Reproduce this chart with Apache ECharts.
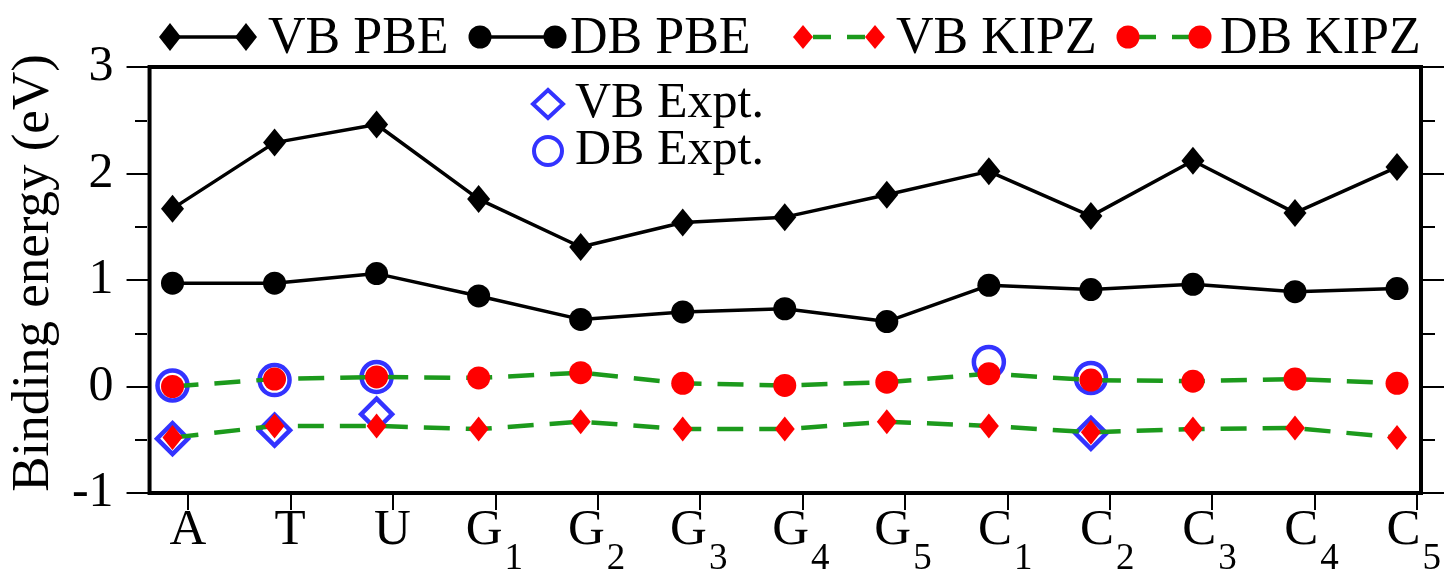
<!DOCTYPE html>
<html>
<head>
<meta charset="utf-8">
<script src="https://cdn.jsdelivr.net/npm/echarts@6/dist/echarts.min.js"></script>
<style>
  html, body { margin: 0; padding: 0; background: #fff; }
  #chart { width: 1444px; height: 579px; }
</style>
</head>
<body>
<div id="chart"></div>
<script>
// Nucleobases / nucleosides along the x axis (letter + optional subscript)
const categories = ['A', 'T', 'U', 'G1', 'G2', 'G3', 'G4', 'G5', 'C1', 'C2', 'C3', 'C4', 'C5'];

// Binding energies (eV)
const vbPBE  = [1.67, 2.29, 2.46, 1.76, 1.31, 1.54, 1.59, 1.80, 2.02, 1.60, 2.12, 1.63, 2.06];
const dbPBE  = [0.97, 0.97, 1.06, 0.85, 0.63, 0.70, 0.73, 0.61, 0.95, 0.91, 0.96, 0.89, 0.92];
const vbKIPZ = [-0.48, -0.37, -0.37, -0.40, -0.33, -0.40, -0.40, -0.33, -0.37, -0.43, -0.40, -0.39, -0.48];
const dbKIPZ = [0.00, 0.07, 0.09, 0.08, 0.13, 0.03, 0.01, 0.04, 0.12, 0.06, 0.05, 0.07, 0.03];
const vbExpt = [-0.49, -0.41, -0.26, null, null, null, null, null, null, -0.44, null, null, null];
const dbExpt = [0.01, 0.06, 0.09, null, null, null, null, null, 0.23, 0.08, null, null, null];

// Value axis range: labelled ticks every 1 eV, half-step ticks every 0.5 eV
const yMin = -1;
const yMax = 3;
const yStep = 1;
const yHalfStep = 0.5;

const FONT = "'Liberation Serif', 'Times New Roman', 'DejaVu Serif', serif";
const BLUE = '#0000ff';
const RED = '#ff0000';
const GREEN = '#1c9a1c';

const pairs = arr => arr.map((v, i) => [i, v]).filter(p => p[1] !== null);

const chart = echarts.init(document.getElementById('chart'), null, { renderer: 'canvas' });

// Top legend drawn as graphic elements: symbol — symbol, then the label
function diamondPts(cx, cy, hw, hh) {
  return [[cx, cy - hh], [cx + hw, cy], [cx, cy + hh], [cx - hw, cy]];
}
const LY = 37;
function legendItem(x1, x2, textX, label, shape, color, lineColor, dashed) {
  const els = [];
  if (dashed) {
    els.push({ type: 'line', shape: { x1: x1 + 10, y1: LY, x2: x1 + 28, y2: LY }, style: { stroke: lineColor, lineWidth: 4.5 } });
    els.push({ type: 'line', shape: { x1: x2 - 28, y1: LY, x2: x2 - 10, y2: LY }, style: { stroke: lineColor, lineWidth: 4.5 } });
  } else {
    els.push({ type: 'line', shape: { x1: x1, y1: LY, x2: x2, y2: LY }, style: { stroke: lineColor, lineWidth: 3.5 } });
  }
  [x1, x2].forEach(cx => {
    if (shape === 'diamond') {
      els.push({ type: 'polygon', shape: { points: diamondPts(cx, LY, dashed ? 10 : 11, dashed ? 12 : 14) }, style: { fill: color } });
    } else {
      els.push({ type: 'circle', shape: { cx: cx, cy: LY, r: 11.5 }, style: { fill: color } });
    }
  });
  els.push({
    type: 'text',
    style: { text: label, x: textX, y: LY + 2, verticalAlign: 'middle', align: 'left', font: '52px ' + FONT, fill: '#000' }
  });
  return els;
}

const graphicEls = [].concat(
  legendItem(170, 246, 268, 'VB PBE', 'diamond', '#000', '#000', false),
  legendItem(480, 555, 570, 'DB PBE', 'circle', '#000', '#000', false),
  legendItem(803, 875, 896, 'VB KIPZ', 'diamond', RED, GREEN, true),
  legendItem(1128, 1200, 1220, 'DB KIPZ', 'circle', RED, GREEN, true)
);

const tickStyle = { color: '#000', width: 2 };
const hiddenX = (gridIndex) => ({
  type: 'value', gridIndex, min: -0.225, max: 12.235,
  axisLine: { show: false, onZero: false }, axisTick: { show: false }, axisLabel: { show: false }, splitLine: { show: false }
});
const tickY = (gridIndex, position, interval, length, extra) => Object.assign({
  type: 'value', gridIndex, min: yMin, max: yMax, interval, position,
  axisLine: { show: false, onZero: false },
  axisTick: { show: true, inside: false, length, lineStyle: tickStyle },
  axisLabel: { show: false },
  splitLine: { show: false }
}, extra || {});

const labelFormatter = v => v.length > 1 ? '{m|' + v[0] + '}{s|' + v.slice(1) + '}' : '{m|' + v + '}';

const option = {
  backgroundColor: '#fff',
  animation: false,
  textStyle: { fontFamily: FONT },
  graphic: graphicEls,
  legend: {
    data: ['VB Expt.', 'DB Expt.'],
    orient: 'vertical',
    left: 526,
    top: 74,
    itemWidth: 30,
    itemHeight: 28,
    itemGap: -3,
    selectedMode: false,
    itemStyle: { borderWidth: 4 },
    textStyle: { fontFamily: FONT, fontSize: 50, color: '#000', padding: [0, 0, 0, 7] }
  },
  grid: [
    // plotting frame
    { left: 147, right: 23, top: 67, bottom: 86, show: true, borderColor: '#000', borderWidth: 4, backgroundColor: 'transparent' },
    // category labels
    { left: 188, right: 27, top: 67, bottom: 86, show: false },
    // half-step ticks on both sides of the frame
    { left: 147, right: 23, top: 67, bottom: 86, show: false },
    // category ticks hanging below the frame (axis line 17px under it, ticks pointing up to the frame)
    { left: 188, right: 27, top: 84, bottom: 69, show: false }
  ],
  xAxis: [
    hiddenX(0),
    {
      type: 'category', gridIndex: 1, data: categories, boundaryGap: false,
      axisLine: { show: false, onZero: false },
      axisTick: { show: false },
      axisLabel: {
        margin: 12,
        formatter: labelFormatter,
        rich: {
          m: { fontFamily: FONT, fontSize: 51, lineHeight: 50, color: '#000', verticalAlign: 'top' },
          s: { fontFamily: FONT, fontSize: 37, lineHeight: 36, color: '#000', verticalAlign: 'top', padding: [36, 0, 0, 2] }
        }
      },
      splitLine: { show: false }
    },
    hiddenX(2),
    {
      type: 'category', gridIndex: 3, data: categories, boundaryGap: false,
      axisLine: { show: false, onZero: false },
      axisTick: { show: true, inside: true, length: 17, lineStyle: tickStyle },
      axisLabel: { show: false },
      splitLine: { show: false }
    }
  ],
  yAxis: [
    tickY(0, 'left', yStep, 23, {
      name: 'Binding energy (eV)', nameLocation: 'middle', nameGap: 84,
      nameTextStyle: { fontFamily: FONT, fontSize: 53, color: '#000', padding: [0, 0, 0, 14] },
      axisLabel: { show: true, margin: 36, fontFamily: FONT, fontSize: 50, color: '#000' }
    }),
    tickY(0, 'right', yStep, 23),
    tickY(2, 'left', yHalfStep, 12),
    tickY(2, 'right', yHalfStep, 14),
    { type: 'value', gridIndex: 1, min: yMin, max: yMax, show: false },
    { type: 'value', gridIndex: 3, min: yMin, max: yMax, show: false }
  ],
  series: [
    {
      name: 'VB PBE', type: 'line', xAxisIndex: 0, yAxisIndex: 0, data: pairs(vbPBE),
      symbol: 'diamond', symbolSize: [23, 28],
      lineStyle: { color: '#000', width: 3.5 }, itemStyle: { color: '#000' }
    },
    {
      name: 'DB PBE', type: 'line', xAxisIndex: 0, yAxisIndex: 0, data: pairs(dbPBE),
      symbol: 'circle', symbolSize: 23,
      lineStyle: { color: '#000', width: 3.5 }, itemStyle: { color: '#000' }
    },
    {
      name: 'VB KIPZ', type: 'line', xAxisIndex: 0, yAxisIndex: 0, data: pairs(vbKIPZ),
      symbol: 'diamond', symbolSize: [20, 25],
      lineStyle: { color: GREEN, width: 4.5, type: [26, 16] }, itemStyle: { color: RED }
    },
    {
      name: 'DB KIPZ', type: 'line', xAxisIndex: 0, yAxisIndex: 0, data: pairs(dbKIPZ),
      symbol: 'circle', symbolSize: 23,
      lineStyle: { color: GREEN, width: 4.5, type: [26, 16] }, itemStyle: { color: RED }
    },
    {
      name: 'VB Expt.', type: 'scatter', xAxisIndex: 0, yAxisIndex: 0, data: pairs(vbExpt),
      symbol: 'diamond', symbolSize: 31,
      itemStyle: { color: 'rgba(255,255,255,0)', borderColor: BLUE, borderWidth: 4.5 }
    },
    {
      name: 'DB Expt.', type: 'scatter', xAxisIndex: 0, yAxisIndex: 0, data: pairs(dbExpt),
      symbol: 'circle', symbolSize: 30,
      itemStyle: { color: 'rgba(255,255,255,0)', borderColor: BLUE, borderWidth: 4.5 }
    }
  ]
};

chart.setOption(option);
</script>
</body>
</html>
